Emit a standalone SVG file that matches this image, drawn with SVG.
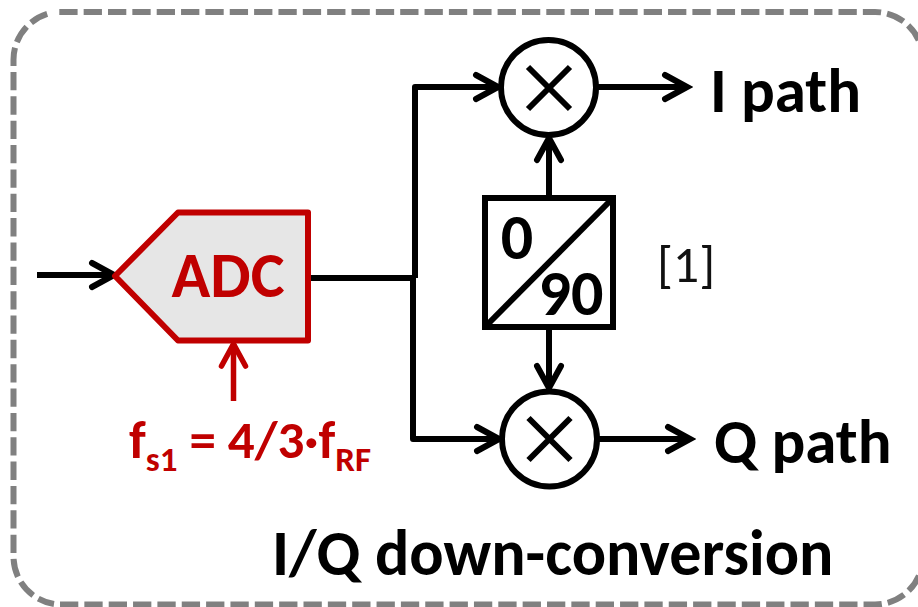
<svg xmlns="http://www.w3.org/2000/svg" width="918" height="607" viewBox="0 0 918 607">
<defs>
<marker id="ah" markerUnits="userSpaceOnUse" markerWidth="34" markerHeight="34" refX="28" refY="17" orient="auto"><path d="M6 5L28 17L6 29" fill="none" stroke="#000" stroke-width="6" stroke-linecap="round"/></marker>
<marker id="ahr" markerUnits="userSpaceOnUse" markerWidth="34" markerHeight="34" refX="28" refY="17" orient="auto"><path d="M6 5L28 17L6 29" fill="none" stroke="#c00000" stroke-width="5.500" stroke-linecap="round"/></marker>
</defs>
<style>
.w{fill:none;stroke:#000;stroke-width:6;stroke-linejoin:round}
.t{font-family:Carlito,"Liberation Sans",sans-serif;font-weight:700;fill:#000}
.r{font-family:Carlito,"Liberation Sans",sans-serif;font-weight:700;fill:#c00000}
.c{fill:#fff;stroke:#000;stroke-width:6}
</style>
<rect x="0" y="0" width="918" height="607" fill="#fff"/>
<path id="frame" d="M59.300 12H875A48 48 0 0 1 923 60M60 604.500H875A48 48 0 0 0 923 556.500M13.500 72V556.500A48 48 0 0 0 54 604M13.500 66V60A48 48 0 0 1 53 12.500" fill="none" stroke="#808080" stroke-width="6" stroke-dasharray="18.300 6.050"/>
<g id="connectors">
<path class="w" d="M37 275H114" marker-end="url(#ah)"/>
<path class="w" d="M310 278H416"/>
<path class="w" d="M415 278V87H498" marker-end="url(#ah)"/>
<path class="w" d="M413 278V439H499" marker-end="url(#ah)"/>
<path class="w" d="M597 87H687" marker-end="url(#ah)"/>
<path class="w" d="M598 439H690" marker-end="url(#ah)"/>
<path class="w" d="M549 198V138" marker-end="url(#ah)"/>
<path class="w" d="M549 327V388" marker-end="url(#ah)"/>
<path d="M233.500 401V344" fill="none" stroke="#c00000" stroke-width="5.500" marker-end="url(#ahr)"/>
</g>
<g id="adc">
<path d="M115 276L178 212.500H308V340.500H178Z" fill="#e6e6e6" stroke="#c00000" stroke-width="6" stroke-linejoin="round"/>
<text class="r" x="228" y="297" text-anchor="middle" font-size="64">ADC</text>
</g>
<g id="mixer-i"><circle class="c" cx="548.500" cy="87.500" r="47.500"/><path class="w" d="M528 67L570 109M570 67L528 109"/></g>
<g id="mixer-q"><circle class="c" cx="549.500" cy="439" r="47.500"/><path class="w" d="M528.500 418L570.500 460M570.500 418L528.500 460"/></g>
<g id="splitter">
<rect x="485" y="198" width="128" height="129" fill="#fff" stroke="#000" stroke-width="6"/>
<path class="w" d="M485 327L613 198"/>
<text class="t" x="517" y="259" text-anchor="middle" font-size="64">0</text>
<text class="t" x="571" y="315" text-anchor="middle" font-size="64">90</text>
</g>
<text x="686" y="282" text-anchor="middle" font-size="52" style="font-family:Carlito,'Liberation Sans',sans-serif;fill:#111">[1]</text>
<text class="t" x="710" y="112" font-size="63">I path</text>
<text class="t" x="714" y="463" font-size="63">Q path</text>
<text class="t" x="272" y="575" font-size="64">I/Q down-conversion</text>
<text class="r" x="129" y="458" font-size="53">f<tspan font-size="35" dy="13">s1</tspan><tspan dy="-13"> = 4/3·f</tspan><tspan font-size="35" dy="13">RF</tspan></text>
</svg>
